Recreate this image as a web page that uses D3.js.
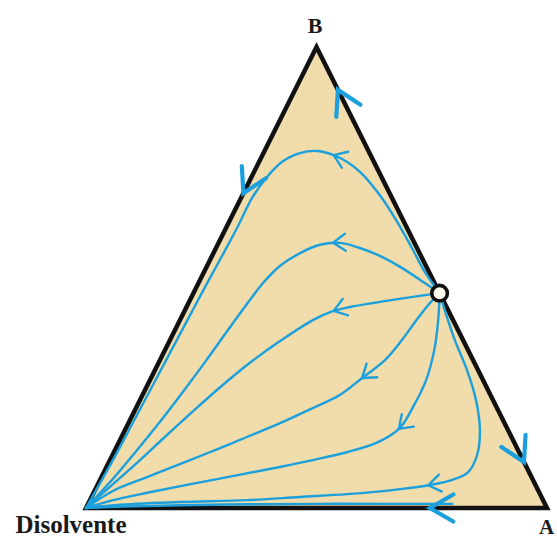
<!DOCTYPE html>
<html>
<head>
<meta charset="utf-8">
<script src="https://cdn.jsdelivr.net/npm/d3@7"></script>
<style>
html, body { margin: 0; padding: 0; background: #ffffff; }
svg { display: block; }
</style>
</head>
<body>
<svg id="chart" width="557" height="538"></svg>
<script>
// Ternary residue curve map. Compositions are [xA, xB]; the solvent fraction is 1 - xA - xB.
const vertexNames = ["Disolvente", "A", "B"];
const vertexComps = [[0, 0], [1, 0], [0, 1]];

// Binary A–B azeotrope sitting on the A–B edge
const azeotrope = [0.534, 0.466];

// Residue curves, each ordered from the azeotrope towards the solvent vertex
const curve1 = [[0.534,0.466],[0.479,0.512],[0.425,0.564],[0.360,0.625],[0.295,0.681],[0.233,0.727],
  [0.177,0.757],[0.120,0.774],[0.079,0.770],[0.050,0.751],[0.033,0.716],[0.024,0.672],[0.024,0.614],
  [0.022,0.553],[0.019,0.490],[0.017,0.430],[0.015,0.369],[0.013,0.305],[0.011,0.243],[0.009,0.180],
  [0.007,0.117],[0,0]];
const curve2 = [[0.534,0.466],[0.491,0.488],[0.420,0.523],[0.364,0.547],[0.312,0.564],[0.264,0.575],
  [0.222,0.571],[0.188,0.553],[0.158,0.525],[0.140,0.488],[0.130,0.451],[0.115,0.386],[0.100,0.317],
  [0.0835,0.249],[0.067,0.187],[0.048,0.126],[0.026,0.061],[0,0]];
const curve3 = [[0.534,0.466],[0.480,0.458],[0.414,0.447],[0.355,0.436],[0.322,0.427],[0.289,0.408],
  [0.240,0.362],[0.198,0.315],[0.160,0.262],[0.126,0.208],[0.094,0.154],[0.063,0.100],[0.029,0.046],[0,0]];
const curve4 = [[0.534,0.466],[0.522,0.440],[0.512,0.403],[0.503,0.364],[0.488,0.321],[0.458,0.282],
  [0.428,0.245],[0.384,0.217],[0.329,0.184],[0.272,0.154],[0.214,0.124],[0.156,0.095],[0.099,0.067],
  [0.040,0.037],[0,0]];
const curve5 = [[0.534,0.466],[0.560,0.408],[0.584,0.343],[0.599,0.278],[0.600,0.223],[0.594,0.174],
  [0.562,0.143],[0.505,0.121],[0.440,0.104],[0.376,0.089],[0.245,0.061],[0.116,0.033],[0.050,0.017],[0,0]];
const curve6 = [[0.534,0.466],[0.572,0.419],[0.618,0.364],[0.677,0.299],[0.729,0.234],[0.770,0.169],
  [0.791,0.115],[0.790,0.078],[0.764,0.061],[0.721,0.050],[0.661,0.041],[0.551,0.030],[0.452,0.024],
  [0.341,0.017],[0.197,0.013],[0.071,0.007],[0,0]];
// Curve hugging the A–solvent edge
const baseCurve = [[0.790,0.009],[0.650,0.009],[0.500,0.009],[0.350,0.008],[0.200,0.006],[0.080,0.003],[0,0]];

const residueCurves = [curve1, curve2, curve3, curve4, curve5, curve6];

// Where the direction arrow sits on each residue curve (same order as residueCurves)
const curveArrowTips = [[0.155,0.761],[0.248,0.575],[0.321,0.430],[0.458,0.282],[0.597,0.169],[0.716,0.052]];

// Arrows on the triangle edges: tip composition and the vertex they point to
const edgeArrowTips = [[0.093,0.907],[0,0.683],[0.900,0.100],[0.746,0]];
const edgeArrowTargets = ["B", "Disolvente", "A", "Disolvente"];

// ---- layout ----
const svg = d3.select("#chart");
const x = d3.scaleLinear().domain([0, 1]).range([86, 547]);
const y = d3.scaleLinear().domain([0, 1]).range([508, 47]);
const proj = c => [x(c[0] + c[1] / 2), y(c[1])];

const blue = "#1ba0dd";
const tri = vertexComps.map(proj);

// Triangle body
svg.append("path")
  .attr("d", d3.line()(tri) + "Z")
  .attr("fill", "#f1ddab")
  .attr("stroke", "none");

svg.append("path")
  .attr("d", d3.line()(tri) + "Z")
  .attr("fill", "none")
  .attr("stroke", "#111")
  .attr("stroke-width", 4.5)
  .attr("stroke-linejoin", "miter")
  .attr("stroke-miterlimit", 20);

// Residue curves
const curveGen = d3.line()
  .x(d => proj(d)[0])
  .y(d => proj(d)[1])
  .curve(d3.curveCatmullRom.alpha(0.5));

const curvePaths = svg.append("g")
  .selectAll("path")
  .data(residueCurves.concat([baseCurve]))
  .join("path")
  .attr("d", curveGen)
  .attr("fill", "none")
  .attr("stroke", blue)
  .attr("stroke-width", 2.4)
  .attr("stroke-linecap", "round")
  .attr("stroke-linejoin", "round");

// Chevron arrow helper: tip point and unit travel direction
function chevron(tip, dir, len, ang) {
  const bx = -dir[0], by = -dir[1];
  const rot = t => [bx * Math.cos(t) - by * Math.sin(t), bx * Math.sin(t) + by * Math.cos(t)];
  const r1 = rot(ang), r2 = rot(-ang);
  return [[tip[0] + r1[0] * len, tip[1] + r1[1] * len], tip, [tip[0] + r2[0] * len, tip[1] + r2[1] * len]];
}
const straight = d3.line();

// Arrows along residue curves, oriented with the local tangent
const arrowG = svg.append("g");
curvePaths.each(function(d, i) {
  if (i >= curveArrowTips.length) return;
  const node = this;
  const total = node.getTotalLength();
  const target = proj(curveArrowTips[i]);
  let best = 0, bestDist = Infinity;
  for (let l = 0; l <= total; l += 0.5) {
    const p = node.getPointAtLength(l);
    const dd = (p.x - target[0]) ** 2 + (p.y - target[1]) ** 2;
    if (dd < bestDist) { bestDist = dd; best = l; }
  }
  const p0 = node.getPointAtLength(Math.max(0, best - 3));
  const p1 = node.getPointAtLength(Math.min(total, best + 3));
  const tip = node.getPointAtLength(best);
  const len = Math.hypot(p1.x - p0.x, p1.y - p0.y);
  const dir = [(p1.x - p0.x) / len, (p1.y - p0.y) / len];
  arrowG.append("path")
    .attr("d", straight(chevron([tip.x, tip.y], dir, 15, 35 * Math.PI / 180)))
    .attr("fill", "none")
    .attr("stroke", blue)
    .attr("stroke-width", 2.4)
    .attr("stroke-linecap", "round")
    .attr("stroke-linejoin", "round");
});

// Arrows on the edges, pointing towards a vertex
edgeArrowTips.forEach((c, i) => {
  const tip = proj(c);
  const v = proj(vertexComps[vertexNames.indexOf(edgeArrowTargets[i])]);
  const len = Math.hypot(v[0] - tip[0], v[1] - tip[1]);
  const dir = [(v[0] - tip[0]) / len, (v[1] - tip[1]) / len];
  arrowG.append("path")
    .attr("d", straight(chevron(tip, dir, 27, 30 * Math.PI / 180)))
    .attr("fill", "none")
    .attr("stroke", blue)
    .attr("stroke-width", 4.2)
    .attr("stroke-linecap", "round")
    .attr("stroke-linejoin", "miter");
});

// Azeotrope marker
const az = proj(azeotrope);
svg.append("circle")
  .attr("cx", az[0]).attr("cy", az[1]).attr("r", 7.8)
  .attr("fill", "#fffaf0")
  .attr("stroke", "#111")
  .attr("stroke-width", 3.6);

// Vertex labels
const labelFont = "'Liberation Serif', 'Times New Roman', serif";
const labelPos = {
  "B":          { dx: -1.5, dy: -14, anchor: "middle", size: 22 },
  "Disolvente": { dx: -15,  dy: 25,  anchor: "middle", size: 25 },
  "A":          { dx: -8,   dy: 26,  anchor: "start",  size: 21 }
};
vertexNames.forEach((name, i) => {
  const p = proj(vertexComps[i]);
  const s = labelPos[name];
  svg.append("text")
    .attr("x", p[0] + s.dx)
    .attr("y", p[1] + s.dy)
    .attr("text-anchor", s.anchor)
    .attr("font-family", labelFont)
    .attr("font-weight", "bold")
    .attr("font-size", s.size)
    .attr("fill", "#1a1a1a")
    .text(name);
});
</script>
</body>
</html>
